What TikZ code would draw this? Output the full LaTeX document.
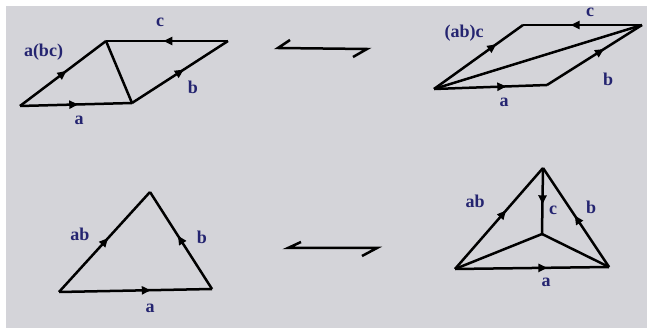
\documentclass[tikz,border=0pt]{standalone}
\usepackage{fontspec}
\setmainfont{Liberation Serif}
\usetikzlibrary{arrows.meta,decorations.markings}
\definecolor{bgray}{RGB}{212,212,217}
\definecolor{lblue}{RGB}{36,36,112}
\tikzset{
  edge/.style={line width=2.5pt,line join=miter},
  plain/.style={edge},
  arr/.style={edge,postaction={decorate},decoration={markings,
     mark=at position #1 with {\arrow{Triangle[length=9pt,width=8pt]}}}},
  arr/.default=0.55,
  lbl/.style={text=lblue,font=\fontsize{18}{18}\selectfont\bfseries,inner sep=0pt},
  harp/.style={line width=2.5pt,line join=miter}
}
\begin{document}
\begin{tikzpicture}[x=1pt,y=-1pt]
\useasboundingbox (0,0) rectangle (647,328);
\fill[white] (0,0) rectangle (647,328);
\fill[bgray] (6,6) rectangle (647,328);

% ---- top left parallelogram: a(bc)
\coordinate (A1) at (20,106);
\coordinate (B1) at (132,103);
\coordinate (C1) at (106,41);
\coordinate (D1) at (228,41);
\draw[arr=0.54] (A1) -- (C1);
\draw[arr=0.52] (A1) -- (B1);
\draw[arr=0.54] (B1) -- (D1);
\draw[arr=0.53] (D1) -- (C1);
\draw[plain] (C1) -- (B1);
\node[lbl] (t1) at (43.5,52) {a(bc)};
\node[lbl] (t2) at (160,22) {c};
\node[lbl] (t3) at (193,87) {b};
\node[lbl] (t4) at (79,120) {a};

% ---- top harpoon
\coordinate (h1) at (290,40);
\coordinate (h2) at (278,48);
\coordinate (h3) at (367,49);
\coordinate (h4) at (353,57);
\draw[harp] (h1) -- (h2) -- (h3) -- (h4);

% ---- top right parallelogram: (ab)c
\coordinate (A2) at (434,89);
\coordinate (B2) at (547,85);
\coordinate (C2) at (523,25);
\coordinate (D2) at (642,25);
\draw[arr=0.7] (A2) -- (C2);
\draw[arr=0.64] (A2) -- (B2);
\draw[arr=0.6] (B2) -- (D2);
\draw[arr=0.6] (D2) -- (C2);
\draw[plain] (A2) -- (D2);
\node[lbl] (t5) at (464,33) {(ab)c};
\node[lbl] (t6) at (590,12) {c};
\node[lbl] (t7) at (608,79) {b};
\node[lbl] (t8) at (504,102) {a};

% ---- bottom left triangle
\coordinate (A3) at (59,292);
\coordinate (B3) at (212,289);
\coordinate (C3) at (150,192);
\draw[arr=0.54] (A3) -- (C3);
\draw[arr=0.6] (A3) -- (B3);
\draw[arr=0.55] (B3) -- (C3);
\node[lbl] (t9) at (80,234) {ab};
\node[lbl] (t10) at (202,237) {b};
\node[lbl] (t11) at (150,308) {a};

% ---- bottom harpoon
\coordinate (g1) at (301,242);
\coordinate (g2) at (288,248);
\coordinate (g3) at (377,248);
\coordinate (g4) at (362,256);
\draw[harp] (g1) -- (g2) -- (g3) -- (g4);

% ---- bottom right triangle
\coordinate (A4) at (455,269);
\coordinate (B4) at (609,267);
\coordinate (C4) at (543,168);
\coordinate (O4) at (542,234);
\draw[arr=0.58] (A4) -- (C4);
\draw[arr=0.6] (A4) -- (B4);
\draw[arr=0.52] (B4) -- (C4);
\draw[arr=0.55] (C4) -- (O4);
\draw[plain] (O4) -- (A4);
\draw[plain] (O4) -- (B4);
\node[lbl] (t12) at (475,201) {ab};
\node[lbl] (t13) at (553,210) {c};
\node[lbl] (t14) at (591,207) {b};
\node[lbl] (t15) at (546,282) {a};
\end{tikzpicture}
\end{document}
